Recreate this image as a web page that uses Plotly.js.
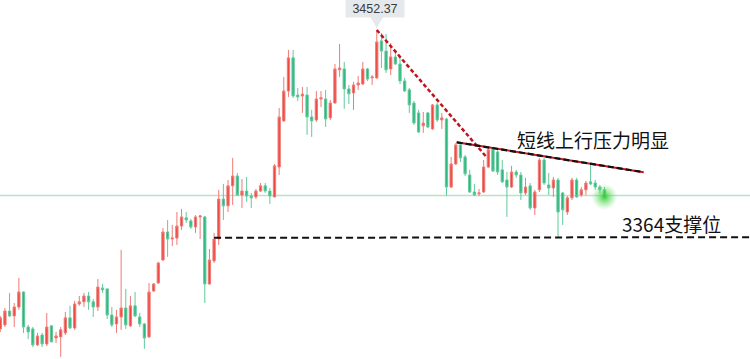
<!DOCTYPE html>
<html>
<head>
<meta charset="utf-8">
<script src="https://cdn.plot.ly/plotly-3.0.1.min.js"></script>
<style>html,body{margin:0;padding:0;background:#fff;}#chart{width:750px;height:359px;}</style>
</head>
<body>
<div id="chart"></div>
<script>
// OHLC values (one entry per candle)
const openP = [3325.3,3327.0,3332.9,3330.8,3334.6,3341.0,3326.1,3325.3,3318.5,3322.7,
3318.9,3326.6,3321.4,3321.9,3323.6,3330.0,3325.7,3335.9,3336.8,3339.3,
3336.8,3334.6,3342.7,3342.3,3331.2,3327.4,3330.4,3334.2,3326.6,3335.1,
3330.4,3327.4,3321.9,3341.4,3344.8,3354.6,3366.5,3363.5,3363.9,3369.0,
3372.5,3371.2,3368.6,3372.9,3372.9,3344.4,3354.2,3363.5,3380.5,3377.6,
3386.1,3390.3,3382.2,3383.9,3381.8,3381.4,3383.9,3386.1,3383.9,3381.4,
3394.1,3413.7,3426.4,3440.5,3424.7,3424.3,3424.7,3415.4,3414.1,3423.0,
3423.0,3415.0,3421.3,3435.4,3435.8,3427.3,3425.6,3429.0,3429.4,3435.8,
3432.0,3432.0,3447.7,3443.4,3435.8,3440.9,3437.9,3430.7,3426.9,3421.3,
3417.1,3411.6,3417.1,3410.3,3420.5,3414.1,3414.5,3385.6,3395.4,3403.5,
3398.4,3390.7,3383.5,3382.7,3383.5,3394.1,3401.8,3400.5,3392.9,3388.6,
3385.6,3392.0,3390.7,3383.1,3386.1,3376.7,3384.4,3397.1,3386.5,3385.2,
3388.6,3383.1,3375.0,3381.0,3388.6,3382.2,3384.4,3387.8,3387.3,3385.6,
3384.4];
const highP = [3330.8,3334.2,3340.6,3336.3,3347.0,3341.2,3327.0,3326.1,3323.6,3323.6,
3332.1,3326.8,3324.0,3326.1,3332.5,3335.1,3337.2,3339.3,3340.6,3341.0,
3338.0,3346.5,3344.4,3342.5,3334.6,3333.4,3358.9,3342.3,3339.3,3341.0,
3332.1,3327.8,3344.8,3344.8,3353.8,3368.2,3371.6,3369.5,3375.0,3376.3,
3375.0,3372.0,3373.7,3373.7,3373.3,3359.3,3366.1,3384.4,3386.9,3388.6,
3398.0,3391.6,3389.0,3389.9,3383.1,3384.8,3387.3,3387.3,3385.2,3395.4,
3419.2,3432.4,3443.9,3443.9,3427.7,3428.1,3428.1,3418.4,3426.4,3426.4,
3426.9,3422.6,3437.9,3446.4,3438.8,3429.0,3430.3,3432.8,3438.8,3436.2,
3433.2,3452.37,3451.1,3450.7,3446.8,3443.9,3440.9,3432.0,3427.7,3422.2,
3418.4,3417.5,3417.5,3420.9,3421.3,3417.1,3415.0,3398.4,3404.3,3404.3,
3399.2,3392.9,3386.9,3384.8,3397.1,3402.2,3402.2,3402.2,3397.1,3392.0,
3394.6,3392.9,3392.0,3389.5,3387.3,3384.4,3398.0,3398.0,3391.6,3389.9,
3389.5,3383.5,3381.8,3389.5,3389.5,3385.6,3388.2,3395.0,3388.6,3386.5,
3385.6];
const lowP = [3324.0,3326.1,3330.4,3326.1,3333.4,3323.6,3321.0,3317.6,3318.0,3317.6,
3318.0,3319.6,3319.3,3313.4,3322.7,3325.3,3324.9,3335.1,3334.6,3333.4,
3330.4,3332.9,3340.6,3329.5,3326.1,3323.6,3324.9,3325.3,3326.1,3330.4,
3326.1,3316.8,3321.4,3341.0,3344.6,3354.2,3355.9,3360.5,3361.0,3367.4,
3370.3,3367.8,3366.1,3363.5,3336.3,3344.0,3353.3,3361.0,3371.6,3375.0,
3378.0,3381.8,3376.7,3379.3,3376.7,3380.5,3383.5,3383.1,3378.4,3381.2,
3390.7,3413.3,3423.9,3423.5,3422.2,3417.1,3407.8,3406.9,3413.3,3419.6,
3411.1,3414.1,3421.1,3432.4,3418.8,3420.9,3418.4,3426.9,3429.0,3430.7,
3429.0,3431.5,3436.2,3434.1,3433.2,3437.5,3429.4,3426.0,3417.1,3412.0,
3408.6,3408.6,3410.7,3409.9,3413.3,3410.3,3381.8,3385.2,3395.0,3396.3,
3390.3,3383.1,3381.8,3381.8,3383.1,3393.7,3392.0,3390.7,3387.3,3372.9,
3385.2,3389.5,3380.1,3382.2,3375.9,3373.7,3383.5,3386.5,3382.2,3381.4,
3364.0,3369.5,3373.7,3380.1,3381.0,3381.4,3382.2,3386.5,3384.4,3383.1,
3381.0];
const closeP = [3330.0,3332.9,3330.8,3334.6,3341.0,3326.1,3324.0,3318.5,3322.3,3318.9,
3326.1,3319.8,3322.3,3324.9,3330.0,3325.7,3335.9,3336.8,3339.3,3336.8,
3334.6,3343.1,3341.9,3331.2,3327.0,3330.4,3334.2,3327.0,3335.1,3330.8,
3327.4,3321.4,3341.0,3344.4,3353.3,3366.5,3363.5,3363.9,3369.0,3372.9,
3371.6,3368.6,3372.9,3373.3,3344.4,3354.6,3363.5,3380.5,3377.6,3386.1,
3390.3,3382.2,3383.9,3381.8,3381.0,3383.9,3386.1,3383.9,3381.8,3394.6,
3415.4,3426.4,3440.5,3424.3,3423.9,3425.1,3415.4,3413.7,3423.0,3423.5,
3414.5,3421.3,3435.8,3436.2,3427.3,3425.2,3429.0,3429.8,3435.8,3431.5,
3432.4,3447.3,3443.4,3435.4,3440.9,3437.9,3430.7,3426.4,3420.5,3412.8,
3409.0,3412.8,3411.1,3420.5,3414.1,3415.0,3385.6,3395.4,3403.5,3398.0,
3391.2,3383.5,3382.2,3383.1,3394.1,3401.4,3392.4,3392.0,3387.8,3385.6,
3392.0,3390.7,3383.1,3385.6,3376.7,3383.5,3397.1,3387.3,3385.2,3388.6,
3375.0,3375.9,3381.0,3388.6,3381.4,3384.4,3387.3,3386.9,3385.6,3384.4,
3381.4];

// Key levels / annotation values
const peakLabel = "3452.37";
const peakIndex = 81;
const peakPrice = 3452.37;
const currentPrice = 3382.0;
const supportPrice = 3364;
const supportText = "3364支撑位";
const pressureText = "短线上行压力明显";
// trend line endpoints [index, price]
const redTrend = [[81, 3452.37], [104.5, 3398.6]];
const blackTrend = [[98.2, 3404.6], [138.4, 3391.9]];
const supportLine = [[46, 3364.0], [162, 3364.3]];

const bars = openP.map((_, i) => i);

const upRed = '#ec4943';
const downGreen = '#2cb67d';

const candle = {
  type: 'candlestick',
  x: bars, open: openP, high: highP, low: lowP, close: closeP,
  increasing: {line: {color: '#f07a74', width: 1}, fillcolor: upRed},
  decreasing: {line: {color: '#62c99c', width: 1}, fillcolor: downGreen},
  whiskerwidth: 0,
  hoverinfo: 'skip',
  showlegend: false
};

// glow on the latest candle: radial gradient, centre colour = gradient.color
const glow = {
  type: 'scatter', mode: 'markers',
  x: [bars[bars.length - 1]], y: [closeP[closeP.length - 1]],
  marker: {size: 26, color: 'rgba(120,225,120,0)', line: {width: 0},
           gradient: {type: 'radial', color: 'rgba(50,205,50,0.95)'}},
  hoverinfo: 'skip', showlegend: false
};

const cjk = '"Noto Sans CJK SC", "Noto Sans", sans-serif';

const layout = {
  width: 750, height: 359,
  margin: {l: 0, r: 0, t: 0, b: 0},
  paper_bgcolor: '#ffffff', plot_bgcolor: '#ffffff',
  showlegend: false,
  xaxis: {range: [-0.06, 161.3], visible: false, rangeslider: {visible: false}, fixedrange: true},
  yaxis: {range: [3312.5, 3465.1], visible: false, fixedrange: true},
  shapes: [
    {type: 'line', xref: 'paper', x0: 0, x1: 1, y0: currentPrice, y1: currentPrice,
     line: {color: '#b6e3cf', width: 1.5}, layer: 'below'},
    {type: 'line', x0: supportLine[0][0], y0: supportLine[0][1], x1: supportLine[1][0], y1: supportLine[1][1],
     line: {color: '#111111', width: 2, dash: '7px,4px'}},
    {type: 'line', x0: redTrend[0][0], y0: redTrend[0][1], x1: redTrend[1][0], y1: redTrend[1][1],
     line: {color: '#c0141b', width: 2.5, dash: '4px,2.5px'}},
    {type: 'line', x0: blackTrend[0][0], y0: blackTrend[0][1], x1: blackTrend[1][0], y1: blackTrend[1][1],
     line: {color: '#c8161d', width: 2}},
    {type: 'line', x0: blackTrend[0][0], y0: blackTrend[0][1], x1: blackTrend[1][0], y1: blackTrend[1][1],
     line: {color: '#111111', width: 2.2, dash: '6px,3px'}},
    {type: 'path', path: 'M 79.6 3457.9 L 82.4 3457.9 L 81 3453.2 Z',
     fillcolor: '#e6e9ec', line: {width: 0}}
  ],
  annotations: [
    {x: peakIndex - 0.3, y: peakPrice, text: peakLabel, showarrow: false,
     xanchor: 'center', yanchor: 'bottom', yshift: 12,
     width: 58, height: 17, bgcolor: '#e6e9ec', borderpad: 0,
     font: {family: 'Liberation Sans, Arial, sans-serif', size: 12.5, color: '#3a3a3a'}},
    {x: 110.8, y: 3405.6, text: pressureText, showarrow: false,
     xanchor: 'left', yanchor: 'middle',
     font: {family: cjk, size: 19, color: '#111111'}},
    {x: 133.4, y: 3370.3, text: supportText, showarrow: false,
     xanchor: 'left', yanchor: 'middle',
     font: {family: cjk, size: 19, color: '#111111'}}
  ]
};

Plotly.newPlot('chart', [candle, glow], layout, {staticPlot: true, displayModeBar: false});
</script>
</body>
</html>
